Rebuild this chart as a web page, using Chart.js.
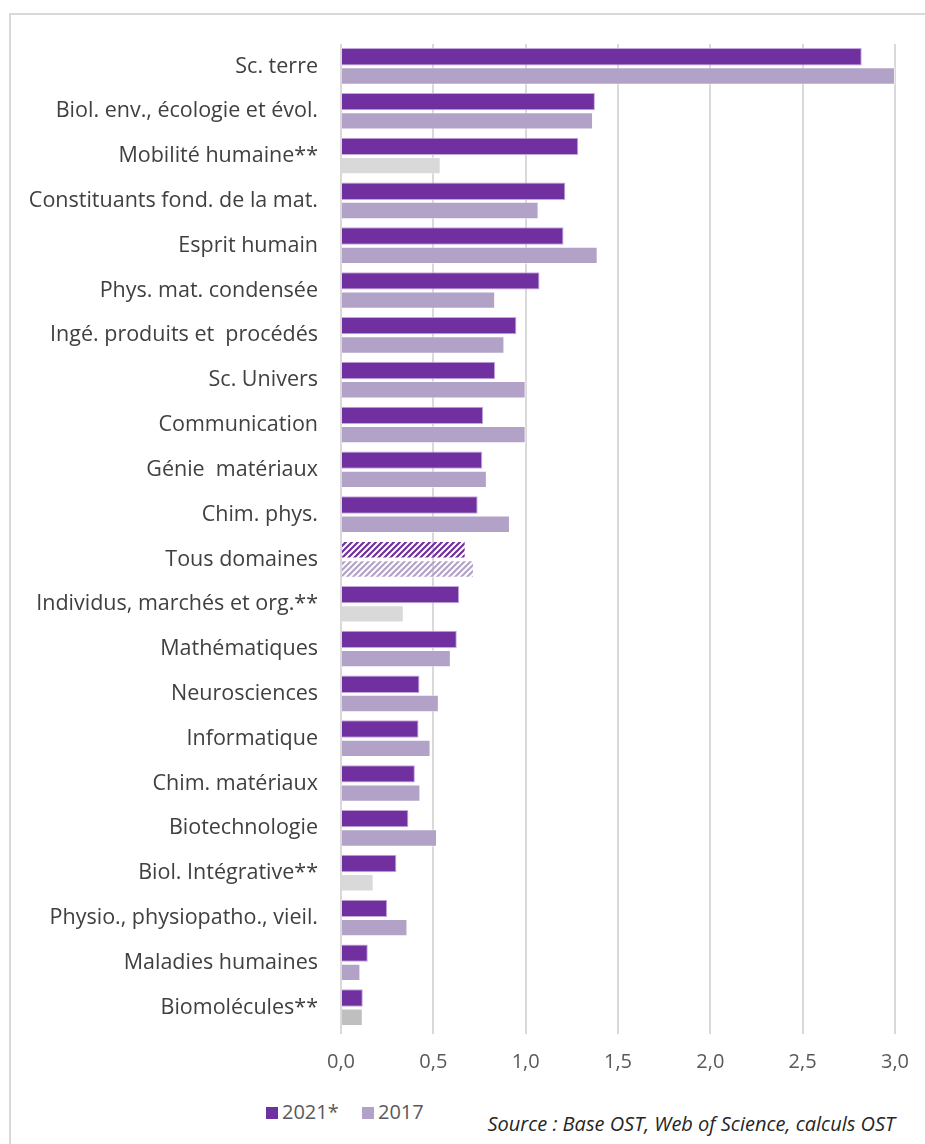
<!DOCTYPE html>
<html lang="fr">
<head>
<meta charset="utf-8">
<script src="https://cdn.jsdelivr.net/npm/chart.js@4/dist/chart.umd.min.js"></script>
<style>
  body { margin: 0; background: #fff; font-family: "Open Sans", sans-serif; }
  #wrap { position: relative; width: 925px; height: 1144px; overflow: hidden; }
  #frame { position: absolute; left: 9px; top: 13px; width: 1000px; height: 1200px; border: 2px solid #d9d9d9; box-sizing: border-box; }
  #chart { position: absolute; left: 0; top: 0; }
  .legend { position: absolute; top: 1098px; left: 266px; font-size: 20px; color: #595959; }
  .legend span.sw { display: inline-block; width: 12px; height: 12px; margin-right: 4px; }
  .legend .item { display: inline-block; margin-right: 18px; }
  #source { position: absolute; right: 30px; top: 1110px; font-size: 20px; font-style: italic; color: #262626; }
</style>
</head>
<body>
<div id="wrap">
  <div id="frame"></div>
  <canvas id="chart" width="925" height="1085"></canvas>
  <div class="legend">
    <span class="item"><span class="sw" style="background:#7030a0"></span>2021*</span>
    <span class="item"><span class="sw" style="background:#b3a2c7"></span>2017</span>
  </div>
  <div id="source">Source : Base OST, Web of Science, calculs OST</div>
</div>
<script>
  // Categories and values
  const categories = [
    "Sc. terre", "Biol. env., écologie et évol.", "Mobilité humaine**",
    "Constituants fond. de la mat.", "Esprit humain", "Phys. mat. condensée",
    "Ingé. produits et  procédés", "Sc. Univers", "Communication",
    "Génie  matériaux", "Chim. phys.", "Tous domaines",
    "Individus, marchés et org.**", "Mathématiques", "Neurosciences",
    "Informatique", "Chim. matériaux", "Biotechnologie",
    "Biol. Intégrative**", "Physio., physiopatho., vieil.",
    "Maladies humaines", "Biomolécules**"
  ];
  const values2021 = [2.82, 1.375, 1.285, 1.215, 1.205, 1.075, 0.95, 0.835, 0.77, 0.765, 0.74, 0.675,
    0.64, 0.627, 0.425, 0.42, 0.40, 0.365, 0.30, 0.25, 0.145, 0.118];
  const values2017 = [3.0, 1.365, 0.54, 1.07, 1.39, 0.835, 0.885, 1.0, 1.0, 0.79, 0.915, 0.72,
    0.34, 0.595, 0.53, 0.485, 0.43, 0.52, 0.177, 0.36, 0.105, 0.118];
  const xTicks = [0, 0.5, 1, 1.5, 2, 2.5, 3];

  // diagonal hatch used for "Tous domaines"
  function hatch(color) {
    const c = document.createElement("canvas");
    c.width = 6; c.height = 6;
    const g = c.getContext("2d");
    g.strokeStyle = color;
    g.lineWidth = 2.2;
    g.beginPath();
    g.moveTo(-2, 8); g.lineTo(8, -2);
    g.moveTo(-2, 2); g.lineTo(2, -2);
    g.moveTo(4, 8); g.lineTo(8, 4);
    g.stroke();
    return g.createPattern(c, "repeat");
  }

  const totalIdx = categories.indexOf("Tous domaines");
  const colors2021 = categories.map((c, i) => i === totalIdx ? hatch("#7030a0") : "#7030a0");
  const colors2017 = categories.map((c, i) => {
    if (i === totalIdx) return hatch("#b3a2c7");
    if (c === "Biomolécules**") return "#bfbfbf";
    if (c.endsWith("**")) return "#d9d9d9";
    return "#b3a2c7";
  });

  new Chart(document.getElementById("chart"), {
    type: "bar",
    data: {
      labels: categories,
      datasets: [
        {
          label: "2021*",
          data: values2021,
          backgroundColor: colors2021,
          borderColor: categories.map((c, i) => i === totalIdx ? "rgba(0,0,0,0)" : "#c4a8dc"),
          borderWidth: 1,
          categoryPercentage: 0.86,
          barPercentage: 0.9
        },
        {
          label: "2017",
          data: values2017,
          backgroundColor: colors2017,
          borderColor: "rgba(255,255,255,0.5)",
          borderWidth: 1,
          categoryPercentage: 0.86,
          barPercentage: 0.9
        }
      ]
    },
    options: {
      responsive: false,
      animation: false,
      indexAxis: "y",
      layout: { padding: { top: 44, right: 30, left: 0, bottom: 0 } },
      plugins: {
        legend: { display: false },
        tooltip: { enabled: false }
      },
      scales: {
        x: {
          min: 0,
          max: 3,
          afterBuildTicks: s => { s.ticks = xTicks.map(v => ({ value: v })); },
          afterFit: s => { s.height = 55; },
          grid: { color: "#d9d9d9", lineWidth: 2, tickLength: 4 },
          border: { display: false },
          ticks: {
            padding: 16,
            color: "#595959",
            font: { family: "Open Sans", size: 20 },
            callback: v => v.toFixed(1).replace(".", ",")
          }
        },
        y: {
          afterFit: s => { s.width = 341; },
          grid: { display: false, drawTicks: false },
          border: { display: false },
          ticks: {
            padding: 23,
            color: "#404040",
            font: { family: "Open Sans", size: 21.5 }
          }
        }
      }
    }
  });
</script>
</body>
</html>
